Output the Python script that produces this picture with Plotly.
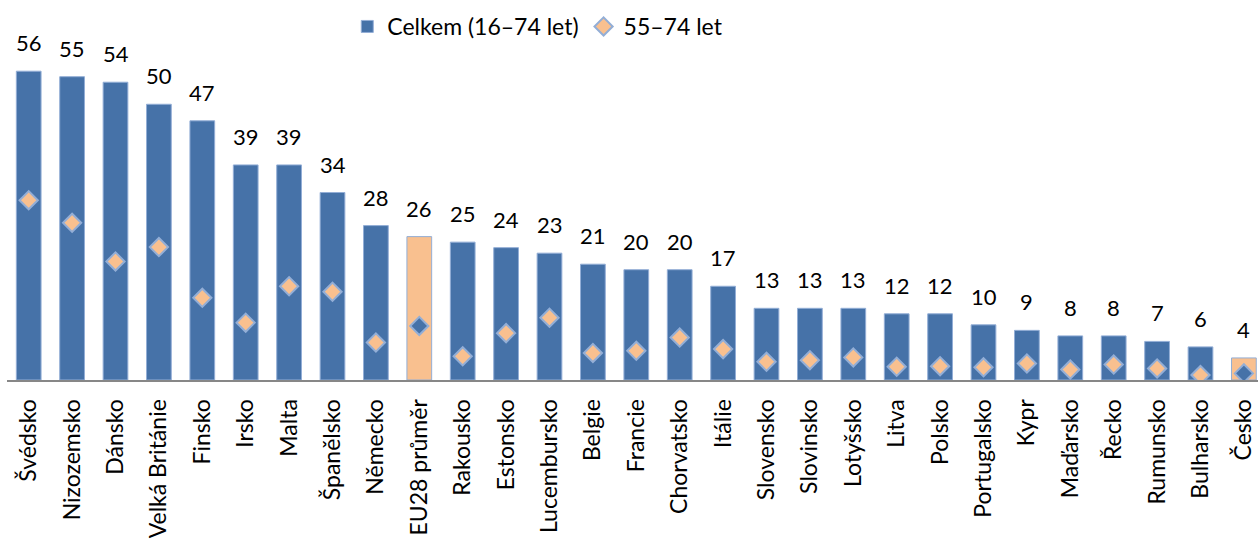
import plotly.graph_objects as go

# Share of people (in %) – total population vs. 55–74 year olds
countries = [
    "Švédsko", "Nizozemsko", "Dánsko", "Velká Británie", "Finsko", "Irsko",
    "Malta", "Španělsko", "Německo", "EU28 průměr", "Rakousko", "Estonsko",
    "Lucembursko", "Belgie", "Francie", "Chorvatsko", "Itálie", "Slovensko",
    "Slovinsko", "Lotyšsko", "Litva", "Polsko", "Portugalsko", "Kypr",
    "Maďarsko", "Řecko", "Rumunsko", "Bulharsko", "Česko",
]
total_16_74 = [56, 55, 54, 50, 47, 39, 39, 34, 28, 26, 25, 24, 23, 21, 20, 20,
               17, 13, 13, 13, 12, 12, 10, 9, 8, 8, 7, 6, 4]
age_55_74 = [32.6, 28.5, 21.5, 24.1, 14.9, 10.4, 17.0, 16.0, 6.8, 9.8, 4.3, 8.5,
             11.3, 4.9, 5.3, 7.7, 5.6, 3.3, 3.6, 4.1, 2.4, 2.5, 2.3, 3.0, 1.9,
             2.8, 2.1, 0.9, 1.2]
highlight = ["EU28 průměr", "Česko"]

BLUE = "#4672a8"
ORANGE = "#f9c08f"
EDGE = "#93aed6"

bar_colors = [ORANGE if c in highlight else BLUE for c in countries]
dot_colors = [BLUE if c in highlight else ORANGE for c in countries]

fig = go.Figure()
fig.add_trace(go.Bar(
    x=countries, y=total_16_74, name="Celkem (16–74 let)",
    marker=dict(color=bar_colors, line=dict(color=EDGE, width=1)),
))
fig.add_trace(go.Scatter(
    x=countries, y=age_55_74, name="55–74 let", mode="markers",
    marker=dict(symbol="diamond", size=14, color=dot_colors,
                line=dict(color=EDGE, width=2)),
))

for c, v in zip(countries, total_16_74):
    fig.add_annotation(x=c, y=v, text=str(v), showarrow=False,
                       yanchor="bottom", yshift=13,
                       font=dict(size=22, color="#000000"))

fig.update_layout(
    width=1258, height=546,
    margin=dict(l=7, r=0, t=5, b=166),
    paper_bgcolor="white", plot_bgcolor="white",
    font=dict(family="Lato, 'Open Sans', sans-serif", color="#000000"),
    bargap=0.43,
    showlegend=True,
    legend=dict(orientation="h", x=0.272, y=1.0, xanchor="left", yanchor="top",
                font=dict(size=23), bgcolor="rgba(0,0,0,0)",
                itemwidth=30, tracegroupgap=0),
)
fig.update_xaxes(
    range=[-0.5, 28.325], showline=True, linecolor="#878787", linewidth=2,
    ticks="", tickangle=-90, tickfont=dict(size=23), ticklabelstandoff=8,
    showgrid=False,
)
fig.update_yaxes(range=[0, 68], visible=False, showgrid=False, zeroline=False)

fig.write_html("out.html")
